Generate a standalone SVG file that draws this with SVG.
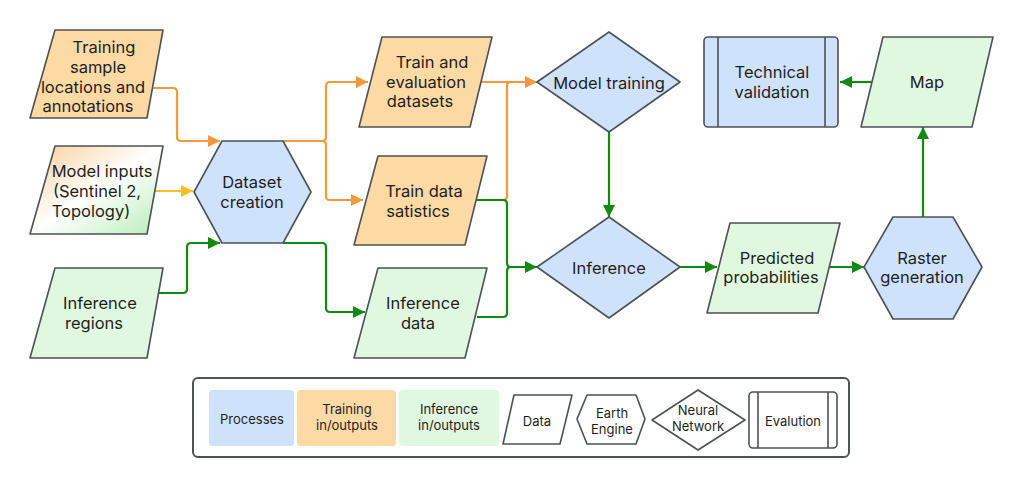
<svg xmlns="http://www.w3.org/2000/svg" width="1024" height="487" viewBox="0 0 1024 487">
<style>
text{font-family:Inter,"Noto Sans","Liberation Sans",sans-serif;fill:#1f1f1f;text-anchor:middle}
.t{font-size:16.5px}
.l{font-size:13px}
.shape{stroke:#4d5257;stroke-width:1.6;stroke-linejoin:round}
.blue{fill:#cfe2fb}
.orange{fill:#fdd9a4}
.green{fill:#e0f7e0}
.c{fill:none;stroke-width:2.2;stroke-linejoin:round}
.co{stroke:#f7993a}
.cy{stroke:#fbc11b}
.cg{stroke:#128a12}
</style>
<defs>
<marker id="ao" viewBox="0 0 10 10" refX="10" refY="5" markerWidth="5.5" markerHeight="5.5" orient="auto"><path d="M0,0 L10,5 L0,10 z" fill="#f7993a"/></marker>
<marker id="ay" viewBox="0 0 10 10" refX="10" refY="5" markerWidth="5.5" markerHeight="5.5" orient="auto"><path d="M0,0 L10,5 L0,10 z" fill="#fbc11b"/></marker>
<marker id="ag" viewBox="0 0 10 10" refX="10" refY="5" markerWidth="5.5" markerHeight="5.5" orient="auto"><path d="M0,0 L10,5 L0,10 z" fill="#128a12"/></marker>
<linearGradient id="mix" x1="0" y1="0" x2="1" y2="1">
<stop offset="0" stop-color="#f9cf98"/>
<stop offset="0.5" stop-color="#ffffff"/>
<stop offset="1" stop-color="#b8ecb8"/>
</linearGradient>
</defs>

<g id="connectors">
<path class="c co" d="M148,88 H173 Q177,88 177,92 V137 Q177,141 181,141 H220" marker-end="url(#ao)"/>
<path class="c cy" d="M153,191 H193" marker-end="url(#ay)"/>
<path class="c cg" d="M158,293 H183 Q187,293 187,289 V247 Q187,243 191,243 H220" marker-end="url(#ag)"/>
<path class="c co" d="M283,141 H322 Q326,141 326,137 V86 Q326,82 330,82 H368" marker-end="url(#ao)"/>
<path class="c co" d="M322,141 Q326,141 326,145 V196 Q326,200 330,200 H363" marker-end="url(#ao)"/>
<path class="c cg" d="M283,243 H322 Q326,243 326,247 V308 Q326,312 330,312 H365" marker-end="url(#ag)"/>
<path class="c co" d="M482,82 H537" marker-end="url(#ao)"/>
<path class="c co" d="M476,200 H503 Q507,200 507,196 V86 Q507,82 511,82"/>
<path class="c cg" d="M476,200 H503 Q507,200 507,204 V263 Q507,267 511,267 H537" marker-end="url(#ag)"/>
<path class="c cg" d="M477,317 H503 Q507,317 507,313 V271 Q507,267 511,267"/>
<path class="c cg" d="M609,132 V217" marker-end="url(#ag)"/>
<path class="c cg" d="M680,267 H717" marker-end="url(#ag)"/>
<path class="c cg" d="M828,267 H864" marker-end="url(#ag)"/>
<path class="c cg" d="M923,217 V127" marker-end="url(#ag)"/>
<path class="c cg" d="M872,82 H840" marker-end="url(#ag)"/>
</g>

<g id="training-sample">
<path class="shape orange" d="M55,30 H163 L147,118 H30 Z"/>
<text class="t" x="104" y="53">Training</text>
<text class="t" x="98" y="73">sample</text>
<text class="t" x="93" y="93">locations and</text>
<text class="t" x="88" y="112">annotations</text>
</g>

<g id="model-inputs">
<path class="shape" fill="url(#mix)" d="M55,146 H163 L147,234 H30 Z"/>
<text class="t" x="102" y="177">Model inputs</text>
<text class="t" x="97" y="197">(Sentinel 2,</text>
<text class="t" x="91" y="217">Topology)</text>
</g>

<g id="inference-regions">
<path class="shape green" d="M55,268 H163 L147,358 H30 Z"/>
<text class="t" x="100" y="309">Inference</text>
<text class="t" x="94" y="329">regions</text>
</g>

<g id="dataset-creation">
<path class="shape blue" d="M222,141 H283 L311,192 L283,243 H222 L194,192 Z"/>
<text class="t" x="252" y="188">Dataset</text>
<text class="t" x="252" y="208">creation</text>
</g>

<g id="train-eval">
<path class="shape orange" d="M382,37 H492 L470,127 H359 Z"/>
<text class="t" x="432" y="68">Train and</text>
<text class="t" x="426" y="88">evaluation</text>
<text class="t" x="420" y="107">datasets</text>
</g>

<g id="train-stats">
<path class="shape orange" d="M378,156 H487 L465,245 H354 Z"/>
<text class="t" x="424" y="197">Train data</text>
<text class="t" x="418" y="217">satistics</text>
</g>

<g id="inference-data">
<path class="shape green" d="M378,268 H487 L465,358 H354 Z"/>
<text class="t" x="423" y="309">Inference</text>
<text class="t" x="418" y="329">data</text>
</g>

<g id="model-training">
<path class="shape blue" d="M609,32 L680,82 L609,132 L537,82 Z"/>
<text class="t" x="609" y="89">Model training</text>
</g>

<g id="inference">
<path class="shape blue" d="M609,217 L680,267 L609,318 L537,267 Z"/>
<text class="t" x="609" y="274">Inference</text>
</g>

<g id="technical-validation">
<rect class="shape blue" x="704" y="37" width="134" height="90" rx="4"/>
<line class="shape" x1="718" y1="37" x2="718" y2="127"/>
<line class="shape" x1="825" y1="37" x2="825" y2="127"/>
<text class="t" x="772" y="78">Technical</text>
<text class="t" x="772" y="98">validation</text>
</g>

<g id="map">
<path class="shape green" d="M883,37 H993 L972,127 H861 Z"/>
<text class="t" x="927" y="88">Map</text>
</g>

<g id="predicted-probabilities">
<path class="shape green" d="M730,223 H840 L818,313 H707 Z"/>
<text class="t" x="777" y="264">Predicted</text>
<text class="t" x="771" y="283">probabilities</text>
</g>

<g id="raster-generation">
<path class="shape blue" d="M893,217 H953 L982,267 L953,319 H893 L864,267 Z"/>
<text class="t" x="922" y="264">Raster</text>
<text class="t" x="922" y="283">generation</text>
</g>

<g id="legend">
<rect x="193" y="378" width="656" height="79" rx="5" fill="#ffffff" stroke="#4d5257" stroke-width="2"/>
<rect x="209" y="390" width="85" height="56" rx="4" fill="#cfe2fb"/>
<text class="l" x="252" y="424">Processes</text>
<rect x="297" y="390" width="99" height="56" rx="4" fill="#fdd9a4"/>
<text class="l" x="347" y="414">Training</text>
<text class="l" x="347" y="430">in/outputs</text>
<rect x="399" y="390" width="100" height="56" rx="4" fill="#e0f7e0"/>
<text class="l" x="449" y="414">Inference</text>
<text class="l" x="449" y="430">in/outputs</text>
<path class="shape" fill="#ffffff" d="M514,395 H572 L560,444 H503 Z" stroke-width="1.3"/>
<text class="l" x="537" y="426">Data</text>
<path class="shape" fill="#ffffff" d="M587,395 H636 L645,419 L636,444 H587 L577,419 Z" stroke-width="1.3"/>
<text class="l" x="612" y="418">Earth</text>
<text class="l" x="612" y="434">Engine</text>
<path class="shape" fill="#ffffff" d="M698,390 L745,420 L698,450 L652,420 Z" stroke-width="1.3"/>
<text class="l" x="698" y="415">Neural</text>
<text class="l" x="698" y="431">Network</text>
<rect class="shape" fill="#ffffff" x="749" y="392" width="88" height="56" rx="4" stroke-width="1.3"/>
<line class="shape" x1="758" y1="392" x2="758" y2="448" stroke-width="1.3"/>
<line class="shape" x1="828" y1="392" x2="828" y2="448" stroke-width="1.3"/>
<text class="l" x="793" y="426">Evalution</text>
</g>
</svg>
